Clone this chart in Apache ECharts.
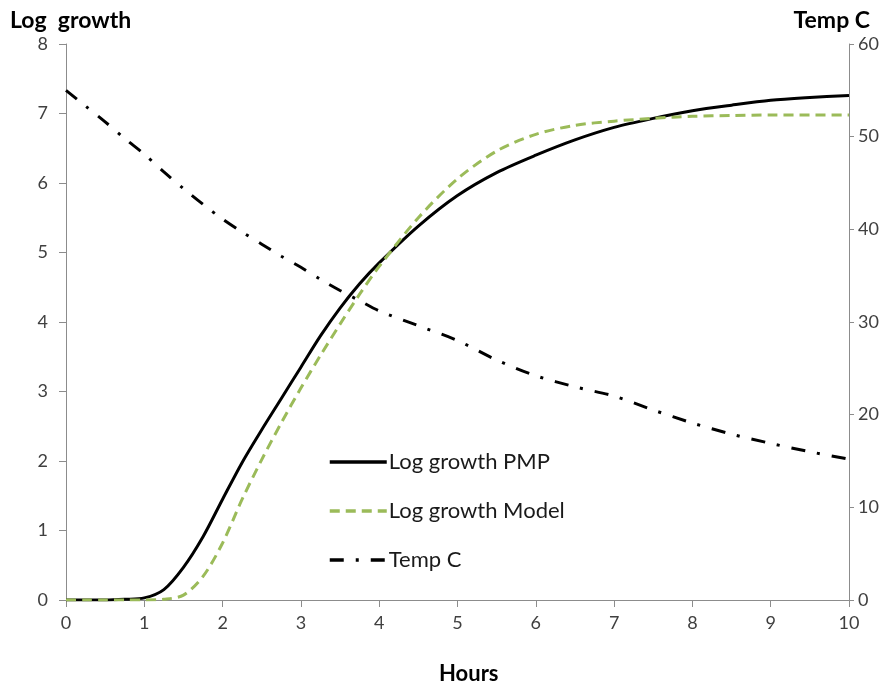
<!DOCTYPE html>
<html>
<head>
<meta charset="utf-8">
<style>
  html, body { margin: 0; padding: 0; background: #fff; }
  #chart { width: 891px; height: 684px; }
</style>
<script src="https://cdn.jsdelivr.net/npm/echarts@6/dist/echarts.min.js"></script>
</head>
<body>
<div id="chart"></div>
<script>
// Sampling times (hours)
const hours = [0, 0.25, 0.5, 0.75, 1, 1.25, 1.5, 1.75, 2, 2.25, 2.5, 2.75, 3, 3.25, 3.5, 3.75, 4,
               4.5, 5, 5.5, 6, 6.5, 7, 7.5, 8, 8.5, 9, 9.5, 10];

// Log growth, PMP prediction
const logGrowthPMP = [0, 0, 0, 0.01, 0.03, 0.15, 0.47, 0.91, 1.45, 1.98, 2.45, 2.9, 3.35, 3.8, 4.2, 4.55, 4.85,
                      5.38, 5.82, 6.15, 6.4, 6.62, 6.8, 6.93, 7.04, 7.12, 7.19, 7.23, 7.26];

// Log growth, model
const logGrowthModel = [0, 0, 0, 0, 0, 0.01, 0.07, 0.34, 0.82, 1.45, 2.02, 2.55, 3.05, 3.52, 3.97, 4.4, 4.8,
                        5.5, 6.06, 6.46, 6.7, 6.83, 6.89, 6.93, 6.96, 6.97, 6.98, 6.98, 6.98];

// Temperature (°C)
const tempC = [55, 53.3, 51.6, 49.8, 48.1, 46.2, 44.4, 42.7, 41.1, 39.7, 38.4, 37.1, 35.9, 34.6, 33.4, 32.3, 31.2,
               29.6, 28.0, 25.9, 24.2, 23.0, 22.0, 20.5, 19.1, 17.9, 16.9, 16.0, 15.2];

const xTicks = { min: 0, max: 10, interval: 1 };
const leftTicks = { min: 0, max: 8, interval: 1 };
const rightTicks = { min: 0, max: 60, interval: 10 };

const FONT = 'Lato, "Open Sans", sans-serif';
const AXIS_GREY = '#8c8c8c';
const LABEL_GREY = '#404040';

const pairs = (ys) => hours.map((h, i) => [h, ys[i]]);

const chart = echarts.init(document.getElementById('chart'), null, { renderer: 'canvas' });

chart.setOption({
  backgroundColor: '#ffffff',
  animation: false,
  textStyle: { fontFamily: FONT },
  grid: { left: 66, right: 42, top: 44, bottom: 84, containLabel: false },
  xAxis: {
    type: 'value',
    min: xTicks.min, max: xTicks.max, interval: xTicks.interval,
    axisLine: { show: true, onZero: false, lineStyle: { color: AXIS_GREY, width: 1 } },
    axisTick: { show: true, length: 7, lineStyle: { color: AXIS_GREY } },
    axisLabel: { color: LABEL_GREY, fontSize: 18, margin: 14, fontFamily: FONT },
    splitLine: { show: false }
  },
  yAxis: [
    {
      type: 'value', position: 'left',
      min: leftTicks.min, max: leftTicks.max, interval: leftTicks.interval,
      axisLine: { show: true, lineStyle: { color: AXIS_GREY, width: 1 } },
      axisTick: { show: true, length: 7, lineStyle: { color: AXIS_GREY } },
      axisLabel: { color: LABEL_GREY, fontSize: 18, margin: 18, fontFamily: FONT },
      splitLine: { show: false }
    },
    {
      type: 'value', position: 'right',
      min: rightTicks.min, max: rightTicks.max, interval: rightTicks.interval,
      axisLine: { show: true, lineStyle: { color: AXIS_GREY, width: 1 } },
      axisTick: { show: true, length: 5, lineStyle: { color: AXIS_GREY } },
      axisLabel: { color: LABEL_GREY, fontSize: 18, margin: 9, fontFamily: FONT },
      splitLine: { show: false }
    }
  ],
  legend: {
    orient: 'vertical',
    left: 323, top: 446,
    itemWidth: 57, itemHeight: 20, itemGap: 27,
    itemStyle: { opacity: 0 },
    lineStyle: { width: 3.5 },
    textStyle: { color: '#1a1a1a', fontSize: 22, fontFamily: FONT, padding: [0, 0, 0, -3] },
    data: ['Log growth PMP', 'Log growth Model', 'Temp C']
  },
  series: [
    {
      name: 'Log growth PMP', type: 'line', yAxisIndex: 0,
      data: pairs(logGrowthPMP), smooth: 0.3, symbol: 'none',
      lineStyle: { color: '#000000', width: 3 }, itemStyle: { color: '#000000' }, z: 3
    },
    {
      name: 'Log growth Model', type: 'line', yAxisIndex: 0,
      data: pairs(logGrowthModel), smooth: 0.3, symbol: 'none',
      lineStyle: { color: '#9bbb59', width: 3, type: [10, 6] }, itemStyle: { color: '#9bbb59' }, z: 4
    },
    {
      name: 'Temp C', type: 'line', yAxisIndex: 1,
      data: pairs(tempC), smooth: 0.3, symbol: 'none',
      lineStyle: { color: '#000000', width: 3, type: [14, 12, 3, 12] }, itemStyle: { color: '#000000' }, z: 2
    }
  ],
  graphic: [
    { type: 'text', left: 10, top: 9,
      style: { text: 'Log  growth', fontSize: 23, fontWeight: 'bold', fontFamily: FONT, fill: '#000' } },
    { type: 'text', right: 21, top: 9,
      style: { text: 'Temp C', fontSize: 23, fontWeight: 'bold', fontFamily: FONT, fill: '#000' } },
    { type: 'text', left: 439, top: 663,
      style: { text: 'Hours', fontSize: 22, fontWeight: 'bold', fontFamily: FONT, fill: '#000' } }
  ]
});
</script>
</body>
</html>
